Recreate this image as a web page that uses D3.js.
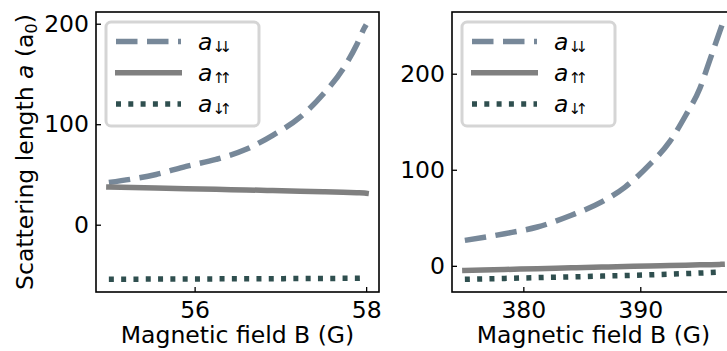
<!DOCTYPE html>
<html>
<head>
<meta charset="utf-8">
<script src="https://cdn.jsdelivr.net/npm/d3@7"></script>
<style>
  body { margin: 0; background: #fff; }
  svg { display: block; font-family: 'DejaVu Sans', sans-serif; }
</style>
</head>
<body>
<div id="app"></div>
<script>
(function (d3) {
  'use strict'

  // left panel (low field resonance)
  const leftB    = [55, 55.55, 55.9, 56.25, 56.6, 56.91, 57.23, 57.5, 57.73, 57.89, 57.98, 58]
  const leftDown = [42, 50, 58, 65, 75, 89, 107, 130, 155, 179, 196, 199]
  const leftUp   = [37.5, 36.6, 35.9, 35.2, 34.6, 34.0, 33.4, 32.8, 32.3, 31.8, 31.5, 31.3]
  const leftMix  = [-54.3, -54.1, -54.0, -53.9, -53.8, -53.7, -53.6, -53.5, -53.4, -53.4, -53.3, -53.3]

  // right panel (high field resonance)
  const rightB    = [375, 378.4, 381.2, 384.1, 386.7, 388.7, 390.75, 392.5, 393.9, 395.1, 395.9, 396.8, 397]
  const rightDown = [26.5, 33.4, 40.4, 52.6, 66.5, 82, 104.8, 129, 157, 184.8, 212.6, 244, 251]
  const rightUp   = [-4.8, -3.8, -3.0, -2.1, -1.3, -0.7, -0.2, 0.3, 0.7, 1.0, 1.2, 1.5, 1.6]
  const rightMix  = [-14, -13.1, -12.3, -11.5, -10.7, -10.1, -9.4, -8.7, -8.1, -7.5, -7.1, -6.5, -6.3]

  const xTicksLeft  = [56, 58]
  const xTicksRight = [380, 390]
  const yTicksLeft  = [0, 100, 200]
  const yTicksRight = [0, 100, 200]

  const legendSubs = ['\u2193\u2193', '\u2191\u2191', '\u2193\u2191']

  const styles = [
    {color: '#778899', dash: '21.5,9.5', cap: 'butt'},
    {color: '#808080', dash: null, cap: 'square'},
    {color: '#2f4f4f', dash: '5,7.3', cap: 'butt'}
  ]

  const W = 727, H = 351
  const top = 12, bottom = 292
  const fontSize = 23.5

  const svg = d3.select('#app').append('svg')
    .attr('width', W)
    .attr('height', H)

  function padded (vals) {
    const ext = d3.extent(vals)
    const p = (ext[1] - ext[0]) * 0.05
    return [ext[0] - p, ext[1] + p]
  }

  function drawPanel (left, right, B, series, xTicks, yTicks, yLabel) {
    const x = d3.scaleLinear().domain(padded(B)).range([left, right])
    const y = d3.scaleLinear().domain(padded(series.flat())).range([bottom, top])
    const g = svg.append('g')

    g.append('g')
      .attr('transform', 'translate(0,' + bottom + ')')
      .call(d3.axisBottom(x).tickValues(xTicks).tickSize(-5).tickPadding(9).tickFormat(d3.format('d')))
      .call(a => a.select('.domain').remove())
      .call(a => a.selectAll('text').attr('font-size', fontSize).attr('font-family', 'DejaVu Sans').attr('fill', '#000'))
      .call(a => a.selectAll('line').attr('stroke-width', 1.3))

    g.append('g')
      .attr('transform', 'translate(' + left + ',0)')
      .call(d3.axisLeft(y).tickValues(yTicks).tickSize(-5).tickPadding(7).tickFormat(d3.format('d')))
      .call(a => a.select('.domain').remove())
      .call(a => a.selectAll('text').attr('font-size', fontSize).attr('font-family', 'DejaVu Sans')
        .attr('fill', '#000').attr('text-anchor', 'end'))
      .call(a => a.selectAll('line').attr('stroke-width', 1.3))

    const line = d3.line()
      .x((d, i) => x(B[i]))
      .y(d => y(d))
      .curve(d3.curveMonotoneX)

    series.forEach(function (s, i) {
      g.append('path')
        .attr('d', line(s))
        .attr('fill', 'none')
        .attr('stroke', styles[i].color)
        .attr('stroke-width', 5.5)
        .attr('stroke-linecap', styles[i].cap)
        .attr('stroke-dasharray', styles[i].dash)
    })

    g.append('rect')
      .attr('x', left).attr('y', top)
      .attr('width', right - left).attr('height', bottom - top)
      .attr('fill', 'none')
      .attr('stroke', '#000')
      .attr('stroke-width', 1.6)

    // legend
    const lx = left + 10, ly = top + 10
    const leg = g.append('g').attr('transform', 'translate(' + lx + ',' + ly + ')')
    leg.append('rect')
      .attr('x', 0).attr('y', 0)
      .attr('width', 153).attr('height', 104)
      .attr('rx', 5)
      .attr('fill', 'rgba(255,255,255,0.8)')
      .attr('stroke', '#d5d5d5')
      .attr('stroke-width', 3)

    legendSubs.forEach(function (sub, i) {
      const ry = 19.5 + i * 31.2
      leg.append('line')
        .attr('x1', i === 1 ? 9 : 10).attr('x2', i === 1 ? 76 : 75)
        .attr('y1', ry).attr('y2', ry)
        .attr('stroke', styles[i].color)
        .attr('stroke-width', 5.5)
        .attr('stroke-dasharray', styles[i].dash)
      const t = leg.append('text')
        .attr('x', 92).attr('y', ry + 8)
        .attr('font-size', fontSize)
        .attr('font-family', 'DejaVu Sans')
      t.append('tspan').attr('font-style', 'italic').text('a')
      t.append('tspan')
        .attr('font-family', 'DejaVu Sans')
        .attr('font-size', 15)
        .attr('letter-spacing', -5.5)
        .attr('dy', 2)
        .attr('fill', '#000')
        .text(sub)
    })

    g.append('text')
      .attr('x', (left + right) / 2)
      .attr('y', 343)
      .attr('text-anchor', 'middle')
      .attr('font-size', fontSize)
      .text('Magnetic field B (G)')

    if (yLabel) {
      const t = g.append('text')
        .attr('transform', 'translate(33,' + ((top + bottom) / 2) + ') rotate(-90)')
        .attr('text-anchor', 'middle')
        .attr('font-size', fontSize)
      t.append('tspan').text('Scattering length ')
      t.append('tspan').attr('font-style', 'italic').text('a')
      t.append('tspan').text(' (a')
      t.append('tspan').attr('font-size', 16).attr('dy', 4).text('0')
      t.append('tspan').attr('dy', -4).text(')')
    }
  }

  drawPanel(96, 379, leftB, [leftDown, leftUp, leftMix], xTicksLeft, yTicksLeft, true)
  drawPanel(452, 735, rightB, [rightDown, rightUp, rightMix], xTicksRight, yTicksRight, false)

}(d3))
</script>
</body>
</html>
